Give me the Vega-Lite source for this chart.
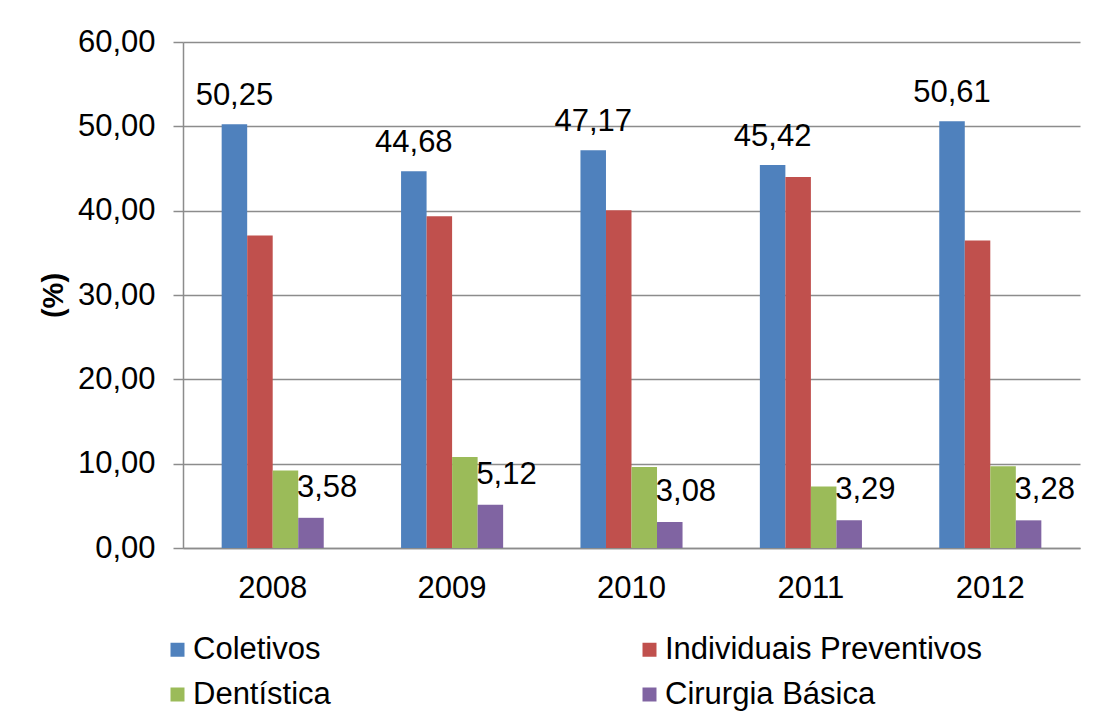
{
  "$schema": "https://vega.github.io/schema/vega-lite/v6.json",
  "width": 897,
  "height": 506,
  "autosize": {"type": "none"},
  "padding": {"left": 183, "top": 42, "right": 40, "bottom": 164},
  "background": "white",
  "config": {
    "locale": {"number": {"decimal": ",", "thousands": ".", "grouping": [3], "currency": ["R$", ""]}},
    "view": {"stroke": null},
    "font": "Liberation Sans"
  },
  "data": {
    "values": [
      {"year": "2008", "series": "Coletivos", "value": 50.25},
      {"year": "2008", "series": "Individuais Preventivos", "value": 37.05},
      {"year": "2008", "series": "Dentística", "value": 9.2},
      {"year": "2008", "series": "Cirurgia Básica", "value": 3.58},
      {"year": "2009", "series": "Coletivos", "value": 44.68},
      {"year": "2009", "series": "Individuais Preventivos", "value": 39.35},
      {"year": "2009", "series": "Dentística", "value": 10.8},
      {"year": "2009", "series": "Cirurgia Básica", "value": 5.12},
      {"year": "2010", "series": "Coletivos", "value": 47.17},
      {"year": "2010", "series": "Individuais Preventivos", "value": 40.05},
      {"year": "2010", "series": "Dentística", "value": 9.6},
      {"year": "2010", "series": "Cirurgia Básica", "value": 3.08},
      {"year": "2011", "series": "Coletivos", "value": 45.42},
      {"year": "2011", "series": "Individuais Preventivos", "value": 44.0},
      {"year": "2011", "series": "Dentística", "value": 7.3},
      {"year": "2011", "series": "Cirurgia Básica", "value": 3.29},
      {"year": "2012", "series": "Coletivos", "value": 50.61},
      {"year": "2012", "series": "Individuais Preventivos", "value": 36.45},
      {"year": "2012", "series": "Dentística", "value": 9.7},
      {"year": "2012", "series": "Cirurgia Básica", "value": 3.28}
    ]
  },
  "encoding": {
    "x": {
      "field": "year", "type": "nominal",
      "scale": {"paddingInner": 0.431, "paddingOuter": 0.2155},
      "axis": {
        "title": null, "labelAngle": 0, "ticks": false, "grid": false,
        "domainColor": "#8c8c8c", "domainWidth": 1.5,
        "labelPadding": 25, "labelFontSize": 31, "labelFont": "Liberation Sans", "labelColor": "#000"
      }
    },
    "xOffset": {
      "field": "series", "type": "nominal",
      "scale": {"domain": ["Coletivos", "Individuais Preventivos", "Dentística", "Cirurgia Básica"], "paddingInner": 0, "paddingOuter": 0}
    },
    "y": {
      "field": "value", "type": "quantitative",
      "scale": {"domain": [0, 60], "nice": false},
      "axis": {
        "title": "(%)", "titleFontSize": 29, "titleFontWeight": "bold", "titleFont": "Liberation Sans", "titleColor": "#000", "titlePadding": 9,
        "format": ".2f", "values": [0, 10, 20, 30, 40, 50, 60],
        "grid": true, "gridColor": "#8c8c8c", "gridWidth": 1.5,
        "domainColor": "#8c8c8c", "domainWidth": 1.5,
        "tickColor": "#8c8c8c", "tickWidth": 1.5, "tickSize": 10,
        "labelPadding": 18, "labelFontSize": 31, "labelFont": "Liberation Sans", "labelColor": "#000"
      }
    }
  },
  "layer": [
    {
      "mark": {"type": "bar"},
      "encoding": {
        "color": {
          "field": "series", "type": "nominal",
          "scale": {"domain": ["Coletivos", "Dentística", "Individuais Preventivos", "Cirurgia Básica"], "range": ["#4F81BD", "#9BBB59", "#C0504D", "#8064A2"]},
          "legend": {
            "title": null, "orient": "none", "legendX": -21, "legendY": 592,
            "columns": 2, "columnPadding": 303, "rowPadding": 13, "padding": 0,
            "symbolType": "square", "symbolSize": 196, "symbolStrokeWidth": 0,
            "labelFontSize": 31, "labelFont": "Liberation Sans", "labelColor": "#000", "labelOffset": 0, "labelLimit": 500
          }
        }
      }
    },
    {
      "transform": [{"filter": "datum.series === 'Coletivos'"}],
      "mark": {"type": "text", "baseline": "alphabetic", "align": "center", "dy": -19, "fontSize": 31, "font": "Liberation Sans", "color": "#000"},
      "encoding": {"text": {"field": "value", "type": "quantitative", "format": ".2f"}}
    },
    {
      "transform": [{"filter": "datum.series === 'Cirurgia Básica'"}],
      "mark": {"type": "text", "baseline": "alphabetic", "align": "left", "dx": -14, "dy": -21, "fontSize": 31, "font": "Liberation Sans", "color": "#000"},
      "encoding": {"text": {"field": "value", "type": "quantitative", "format": ".2f"}}
    }
  ]
}
